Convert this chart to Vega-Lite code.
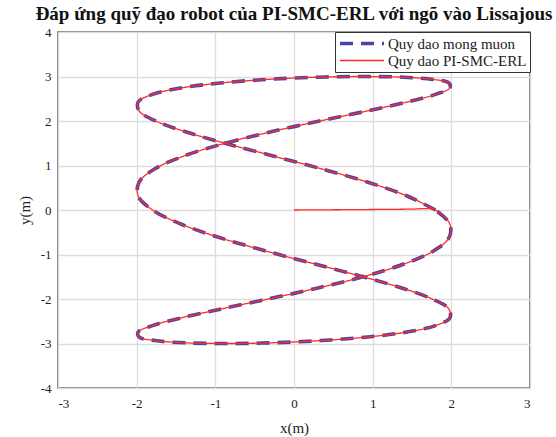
{
  "$schema": "https://vega.github.io/schema/vega-lite/v6.json",
  "width": 472,
  "height": 356,
  "autosize": {"type": "none"},
  "padding": {"left": 58, "top": 32, "right": 26, "bottom": 49},
  "background": "white",
  "title": {
    "text": "Đáp ứng quỹ đạo robot của PI-SMC-ERL với ngõ vào Lissajous",
    "font": "Liberation Serif",
    "fontSize": 19,
    "fontWeight": "bold",
    "color": "#111",
    "anchor": "middle",
    "offset": 2
  },
  "config": {
    "view": {"stroke": "#555", "strokeWidth": 1.5},
    "style": {"guide-label": {"font": "Liberation Serif"}, "guide-title": {"font": "Liberation Serif"}},
    "axis": {
      "labelFont": "Liberation Serif",
      "labelFontSize": 13,
      "labelColor": "#222",
      "titleFont": "Liberation Serif",
      "titleFontSize": 15,
      "titleFontWeight": "normal",
      "titleColor": "#222",
      "gridColor": "#dddddd",
      "gridWidth": 1.3,
      "domain": false,
      "ticks": false
    },
    "legend": {
      "labelFont": "Liberation Serif",
      "labelFontSize": 15,
      "labelColor": "#222"
    }
  },
  "datasets": {
    "traj": [
      {"s": "Quy dao mong muon", "i": 0, "x": 1.798, "y": 0},
      {"s": "Quy dao mong muon", "i": 1, "x": 1.439, "y": 0.314},
      {"s": "Quy dao mong muon", "i": 2, "x": 0.939, "y": 0.624},
      {"s": "Quy dao mong muon", "i": 3, "x": 0.347, "y": 0.927},
      {"s": "Quy dao mong muon", "i": 4, "x": -0.278, "y": 1.22},
      {"s": "Quy dao mong muon", "i": 5, "x": -0.877, "y": 1.5},
      {"s": "Quy dao mong muon", "i": 6, "x": -1.389, "y": 1.763},
      {"s": "Quy dao mong muon", "i": 7, "x": -1.766, "y": 2.007},
      {"s": "Quy dao mong muon", "i": 8, "x": -1.97, "y": 2.229},
      {"s": "Quy dao mong muon", "i": 9, "x": -1.981, "y": 2.427},
      {"s": "Quy dao mong muon", "i": 10, "x": -1.798, "y": 2.598},
      {"s": "Quy dao mong muon", "i": 11, "x": -1.439, "y": 2.741},
      {"s": "Quy dao mong muon", "i": 12, "x": -0.939, "y": 2.853},
      {"s": "Quy dao mong muon", "i": 13, "x": -0.347, "y": 2.934},
      {"s": "Quy dao mong muon", "i": 14, "x": 0.278, "y": 2.984},
      {"s": "Quy dao mong muon", "i": 15, "x": 0.877, "y": 3},
      {"s": "Quy dao mong muon", "i": 16, "x": 1.389, "y": 2.984},
      {"s": "Quy dao mong muon", "i": 17, "x": 1.766, "y": 2.934},
      {"s": "Quy dao mong muon", "i": 18, "x": 1.97, "y": 2.853},
      {"s": "Quy dao mong muon", "i": 19, "x": 1.981, "y": 2.741},
      {"s": "Quy dao mong muon", "i": 20, "x": 1.798, "y": 2.598},
      {"s": "Quy dao mong muon", "i": 21, "x": 1.439, "y": 2.427},
      {"s": "Quy dao mong muon", "i": 22, "x": 0.939, "y": 2.229},
      {"s": "Quy dao mong muon", "i": 23, "x": 0.347, "y": 2.007},
      {"s": "Quy dao mong muon", "i": 24, "x": -0.278, "y": 1.763},
      {"s": "Quy dao mong muon", "i": 25, "x": -0.877, "y": 1.5},
      {"s": "Quy dao mong muon", "i": 26, "x": -1.389, "y": 1.22},
      {"s": "Quy dao mong muon", "i": 27, "x": -1.766, "y": 0.927},
      {"s": "Quy dao mong muon", "i": 28, "x": -1.97, "y": 0.624},
      {"s": "Quy dao mong muon", "i": 29, "x": -1.981, "y": 0.314},
      {"s": "Quy dao mong muon", "i": 30, "x": -1.798, "y": 0},
      {"s": "Quy dao mong muon", "i": 31, "x": -1.439, "y": -0.314},
      {"s": "Quy dao mong muon", "i": 32, "x": -0.939, "y": -0.624},
      {"s": "Quy dao mong muon", "i": 33, "x": -0.347, "y": -0.927},
      {"s": "Quy dao mong muon", "i": 34, "x": 0.278, "y": -1.22},
      {"s": "Quy dao mong muon", "i": 35, "x": 0.877, "y": -1.5},
      {"s": "Quy dao mong muon", "i": 36, "x": 1.389, "y": -1.763},
      {"s": "Quy dao mong muon", "i": 37, "x": 1.766, "y": -2.007},
      {"s": "Quy dao mong muon", "i": 38, "x": 1.97, "y": -2.229},
      {"s": "Quy dao mong muon", "i": 39, "x": 1.981, "y": -2.427},
      {"s": "Quy dao mong muon", "i": 40, "x": 1.798, "y": -2.598},
      {"s": "Quy dao mong muon", "i": 41, "x": 1.439, "y": -2.741},
      {"s": "Quy dao mong muon", "i": 42, "x": 0.939, "y": -2.853},
      {"s": "Quy dao mong muon", "i": 43, "x": 0.347, "y": -2.934},
      {"s": "Quy dao mong muon", "i": 44, "x": -0.278, "y": -2.984},
      {"s": "Quy dao mong muon", "i": 45, "x": -0.877, "y": -3},
      {"s": "Quy dao mong muon", "i": 46, "x": -1.389, "y": -2.984},
      {"s": "Quy dao mong muon", "i": 47, "x": -1.766, "y": -2.934},
      {"s": "Quy dao mong muon", "i": 48, "x": -1.97, "y": -2.853},
      {"s": "Quy dao mong muon", "i": 49, "x": -1.981, "y": -2.741},
      {"s": "Quy dao mong muon", "i": 50, "x": -1.798, "y": -2.598},
      {"s": "Quy dao mong muon", "i": 51, "x": -1.439, "y": -2.427},
      {"s": "Quy dao mong muon", "i": 52, "x": -0.939, "y": -2.229},
      {"s": "Quy dao mong muon", "i": 53, "x": -0.347, "y": -2.007},
      {"s": "Quy dao mong muon", "i": 54, "x": 0.278, "y": -1.763},
      {"s": "Quy dao mong muon", "i": 55, "x": 0.877, "y": -1.5},
      {"s": "Quy dao mong muon", "i": 56, "x": 1.389, "y": -1.22},
      {"s": "Quy dao mong muon", "i": 57, "x": 1.766, "y": -0.927},
      {"s": "Quy dao mong muon", "i": 58, "x": 1.97, "y": -0.624},
      {"s": "Quy dao mong muon", "i": 59, "x": 1.981, "y": -0.314},
      {"s": "Quy dao mong muon", "i": 60, "x": 1.798, "y": 0},
      {"s": "Quy dao PI-SMC-ERL", "i": 0, "x": 0, "y": 0},
      {"s": "Quy dao PI-SMC-ERL", "i": 1, "x": 0.9, "y": 0.01},
      {"s": "Quy dao PI-SMC-ERL", "i": 2, "x": 1.5, "y": 0.02},
      {"s": "Quy dao PI-SMC-ERL", "i": 3, "x": 1.72, "y": 0.03},
      {"s": "Quy dao PI-SMC-ERL", "i": 4, "x": 1.798, "y": 0},
      {"s": "Quy dao PI-SMC-ERL", "i": 5, "x": 1.981, "y": -0.314},
      {"s": "Quy dao PI-SMC-ERL", "i": 6, "x": 1.97, "y": -0.624},
      {"s": "Quy dao PI-SMC-ERL", "i": 7, "x": 1.766, "y": -0.927},
      {"s": "Quy dao PI-SMC-ERL", "i": 8, "x": 1.389, "y": -1.22},
      {"s": "Quy dao PI-SMC-ERL", "i": 9, "x": 0.877, "y": -1.5},
      {"s": "Quy dao PI-SMC-ERL", "i": 10, "x": 0.278, "y": -1.763},
      {"s": "Quy dao PI-SMC-ERL", "i": 11, "x": -0.347, "y": -2.007},
      {"s": "Quy dao PI-SMC-ERL", "i": 12, "x": -0.939, "y": -2.229},
      {"s": "Quy dao PI-SMC-ERL", "i": 13, "x": -1.439, "y": -2.427},
      {"s": "Quy dao PI-SMC-ERL", "i": 14, "x": -1.798, "y": -2.598},
      {"s": "Quy dao PI-SMC-ERL", "i": 15, "x": -1.981, "y": -2.741},
      {"s": "Quy dao PI-SMC-ERL", "i": 16, "x": -1.97, "y": -2.853},
      {"s": "Quy dao PI-SMC-ERL", "i": 17, "x": -1.766, "y": -2.934},
      {"s": "Quy dao PI-SMC-ERL", "i": 18, "x": -1.389, "y": -2.984},
      {"s": "Quy dao PI-SMC-ERL", "i": 19, "x": -0.877, "y": -3},
      {"s": "Quy dao PI-SMC-ERL", "i": 20, "x": -0.278, "y": -2.984},
      {"s": "Quy dao PI-SMC-ERL", "i": 21, "x": 0.347, "y": -2.934},
      {"s": "Quy dao PI-SMC-ERL", "i": 22, "x": 0.939, "y": -2.853},
      {"s": "Quy dao PI-SMC-ERL", "i": 23, "x": 1.439, "y": -2.741},
      {"s": "Quy dao PI-SMC-ERL", "i": 24, "x": 1.798, "y": -2.598},
      {"s": "Quy dao PI-SMC-ERL", "i": 25, "x": 1.981, "y": -2.427},
      {"s": "Quy dao PI-SMC-ERL", "i": 26, "x": 1.97, "y": -2.229},
      {"s": "Quy dao PI-SMC-ERL", "i": 27, "x": 1.766, "y": -2.007},
      {"s": "Quy dao PI-SMC-ERL", "i": 28, "x": 1.389, "y": -1.763},
      {"s": "Quy dao PI-SMC-ERL", "i": 29, "x": 0.877, "y": -1.5},
      {"s": "Quy dao PI-SMC-ERL", "i": 30, "x": 0.278, "y": -1.22},
      {"s": "Quy dao PI-SMC-ERL", "i": 31, "x": -0.347, "y": -0.927},
      {"s": "Quy dao PI-SMC-ERL", "i": 32, "x": -0.939, "y": -0.624},
      {"s": "Quy dao PI-SMC-ERL", "i": 33, "x": -1.439, "y": -0.314},
      {"s": "Quy dao PI-SMC-ERL", "i": 34, "x": -1.798, "y": 0},
      {"s": "Quy dao PI-SMC-ERL", "i": 35, "x": -1.981, "y": 0.314},
      {"s": "Quy dao PI-SMC-ERL", "i": 36, "x": -1.97, "y": 0.624},
      {"s": "Quy dao PI-SMC-ERL", "i": 37, "x": -1.766, "y": 0.927},
      {"s": "Quy dao PI-SMC-ERL", "i": 38, "x": -1.389, "y": 1.22},
      {"s": "Quy dao PI-SMC-ERL", "i": 39, "x": -0.877, "y": 1.5},
      {"s": "Quy dao PI-SMC-ERL", "i": 40, "x": -0.278, "y": 1.763},
      {"s": "Quy dao PI-SMC-ERL", "i": 41, "x": 0.347, "y": 2.007},
      {"s": "Quy dao PI-SMC-ERL", "i": 42, "x": 0.939, "y": 2.229},
      {"s": "Quy dao PI-SMC-ERL", "i": 43, "x": 1.439, "y": 2.427},
      {"s": "Quy dao PI-SMC-ERL", "i": 44, "x": 1.798, "y": 2.598},
      {"s": "Quy dao PI-SMC-ERL", "i": 45, "x": 1.981, "y": 2.741},
      {"s": "Quy dao PI-SMC-ERL", "i": 46, "x": 1.97, "y": 2.853},
      {"s": "Quy dao PI-SMC-ERL", "i": 47, "x": 1.766, "y": 2.934},
      {"s": "Quy dao PI-SMC-ERL", "i": 48, "x": 1.389, "y": 2.984},
      {"s": "Quy dao PI-SMC-ERL", "i": 49, "x": 0.877, "y": 3},
      {"s": "Quy dao PI-SMC-ERL", "i": 50, "x": 0.278, "y": 2.984},
      {"s": "Quy dao PI-SMC-ERL", "i": 51, "x": -0.347, "y": 2.934},
      {"s": "Quy dao PI-SMC-ERL", "i": 52, "x": -0.939, "y": 2.853},
      {"s": "Quy dao PI-SMC-ERL", "i": 53, "x": -1.439, "y": 2.741},
      {"s": "Quy dao PI-SMC-ERL", "i": 54, "x": -1.798, "y": 2.598},
      {"s": "Quy dao PI-SMC-ERL", "i": 55, "x": -1.981, "y": 2.427},
      {"s": "Quy dao PI-SMC-ERL", "i": 56, "x": -1.97, "y": 2.229},
      {"s": "Quy dao PI-SMC-ERL", "i": 57, "x": -1.766, "y": 2.007},
      {"s": "Quy dao PI-SMC-ERL", "i": 58, "x": -1.389, "y": 1.763},
      {"s": "Quy dao PI-SMC-ERL", "i": 59, "x": -0.877, "y": 1.5},
      {"s": "Quy dao PI-SMC-ERL", "i": 60, "x": -0.278, "y": 1.22},
      {"s": "Quy dao PI-SMC-ERL", "i": 61, "x": 0.347, "y": 0.927},
      {"s": "Quy dao PI-SMC-ERL", "i": 62, "x": 0.939, "y": 0.624},
      {"s": "Quy dao PI-SMC-ERL", "i": 63, "x": 1.439, "y": 0.314},
      {"s": "Quy dao PI-SMC-ERL", "i": 64, "x": 1.798, "y": 0}
    ]
  },
  "data": {"name": "traj"},
  "encoding": {
    "x": {
      "field": "x",
      "type": "quantitative",
      "scale": {"domain": [-3, 3], "nice": false, "zero": false},
      "axis": {
        "values": [-3, -2, -1, 0, 1, 2, 3],
        "labelExpr": "replace(datum.label, '−', '-')",
        "labelFont": "Liberation Serif",
        "labelFontSize": 13,
        "title": "x(m)",
        "titleFont": "Liberation Serif",
        "labelPadding": 9,
        "titlePadding": 10,
        "encode": {"labels": {"update": {"font": {"value": "Liberation Serif"}}}}
      }
    },
    "y": {
      "field": "y",
      "type": "quantitative",
      "scale": {"domain": [-4, 4], "nice": false, "zero": false},
      "axis": {
        "values": [-4, -3, -2, -1, 0, 1, 2, 3, 4],
        "labelExpr": "replace(datum.label, '−', '-')",
        "labelFont": "Liberation Serif",
        "labelFontSize": 13,
        "title": "y(m)",
        "titleFont": "Liberation Serif",
        "labelPadding": 7,
        "titlePadding": 8,
        "encode": {"labels": {"update": {"font": {"value": "Liberation Serif"}}}}
      }
    },
    "order": {"field": "i", "type": "quantitative"},
    "color": {
      "field": "s",
      "type": "nominal",
      "title": null,
      "scale": {"domain": ["Quy dao mong muon", "Quy dao PI-SMC-ERL"], "range": ["#4646a6", "#ff2a2a"]},
      "legend": {
        "orient": "top-right",
        "offset": 0,
        "fillColor": "white",
        "strokeColor": "#333",
        "padding": 3,
        "symbolType": "stroke",
        "symbolSize": 1936,
        "clipHeight": 17,
        "labelFont": "Liberation Serif",
        "labelFontSize": 15,
        "labelOffset": 2,
        "rowPadding": 0,
        "encode": {"labels": {"update": {"font": {"value": "Liberation Serif"}}}}
      }
    },
    "strokeDash": {
      "field": "s",
      "type": "nominal",
      "title": null,
      "scale": {"domain": ["Quy dao mong muon", "Quy dao PI-SMC-ERL"], "range": [[13, 8], [1, 0]]}
    },
    "strokeWidth": {
      "field": "s",
      "type": "nominal",
      "title": null,
      "scale": {"domain": ["Quy dao mong muon", "Quy dao PI-SMC-ERL"], "range": [3.6, 1.3]}
    }
  },
  "layer": [
    {
      "transform": [{"filter": "datum.s == 'Quy dao mong muon'"}],
      "mark": {"type": "line", "interpolate": "catmull-rom"}
    },
    {
      "transform": [{"filter": "datum.s == 'Quy dao PI-SMC-ERL'"}],
      "mark": {"type": "line", "interpolate": "catmull-rom"}
    }
  ]
}
